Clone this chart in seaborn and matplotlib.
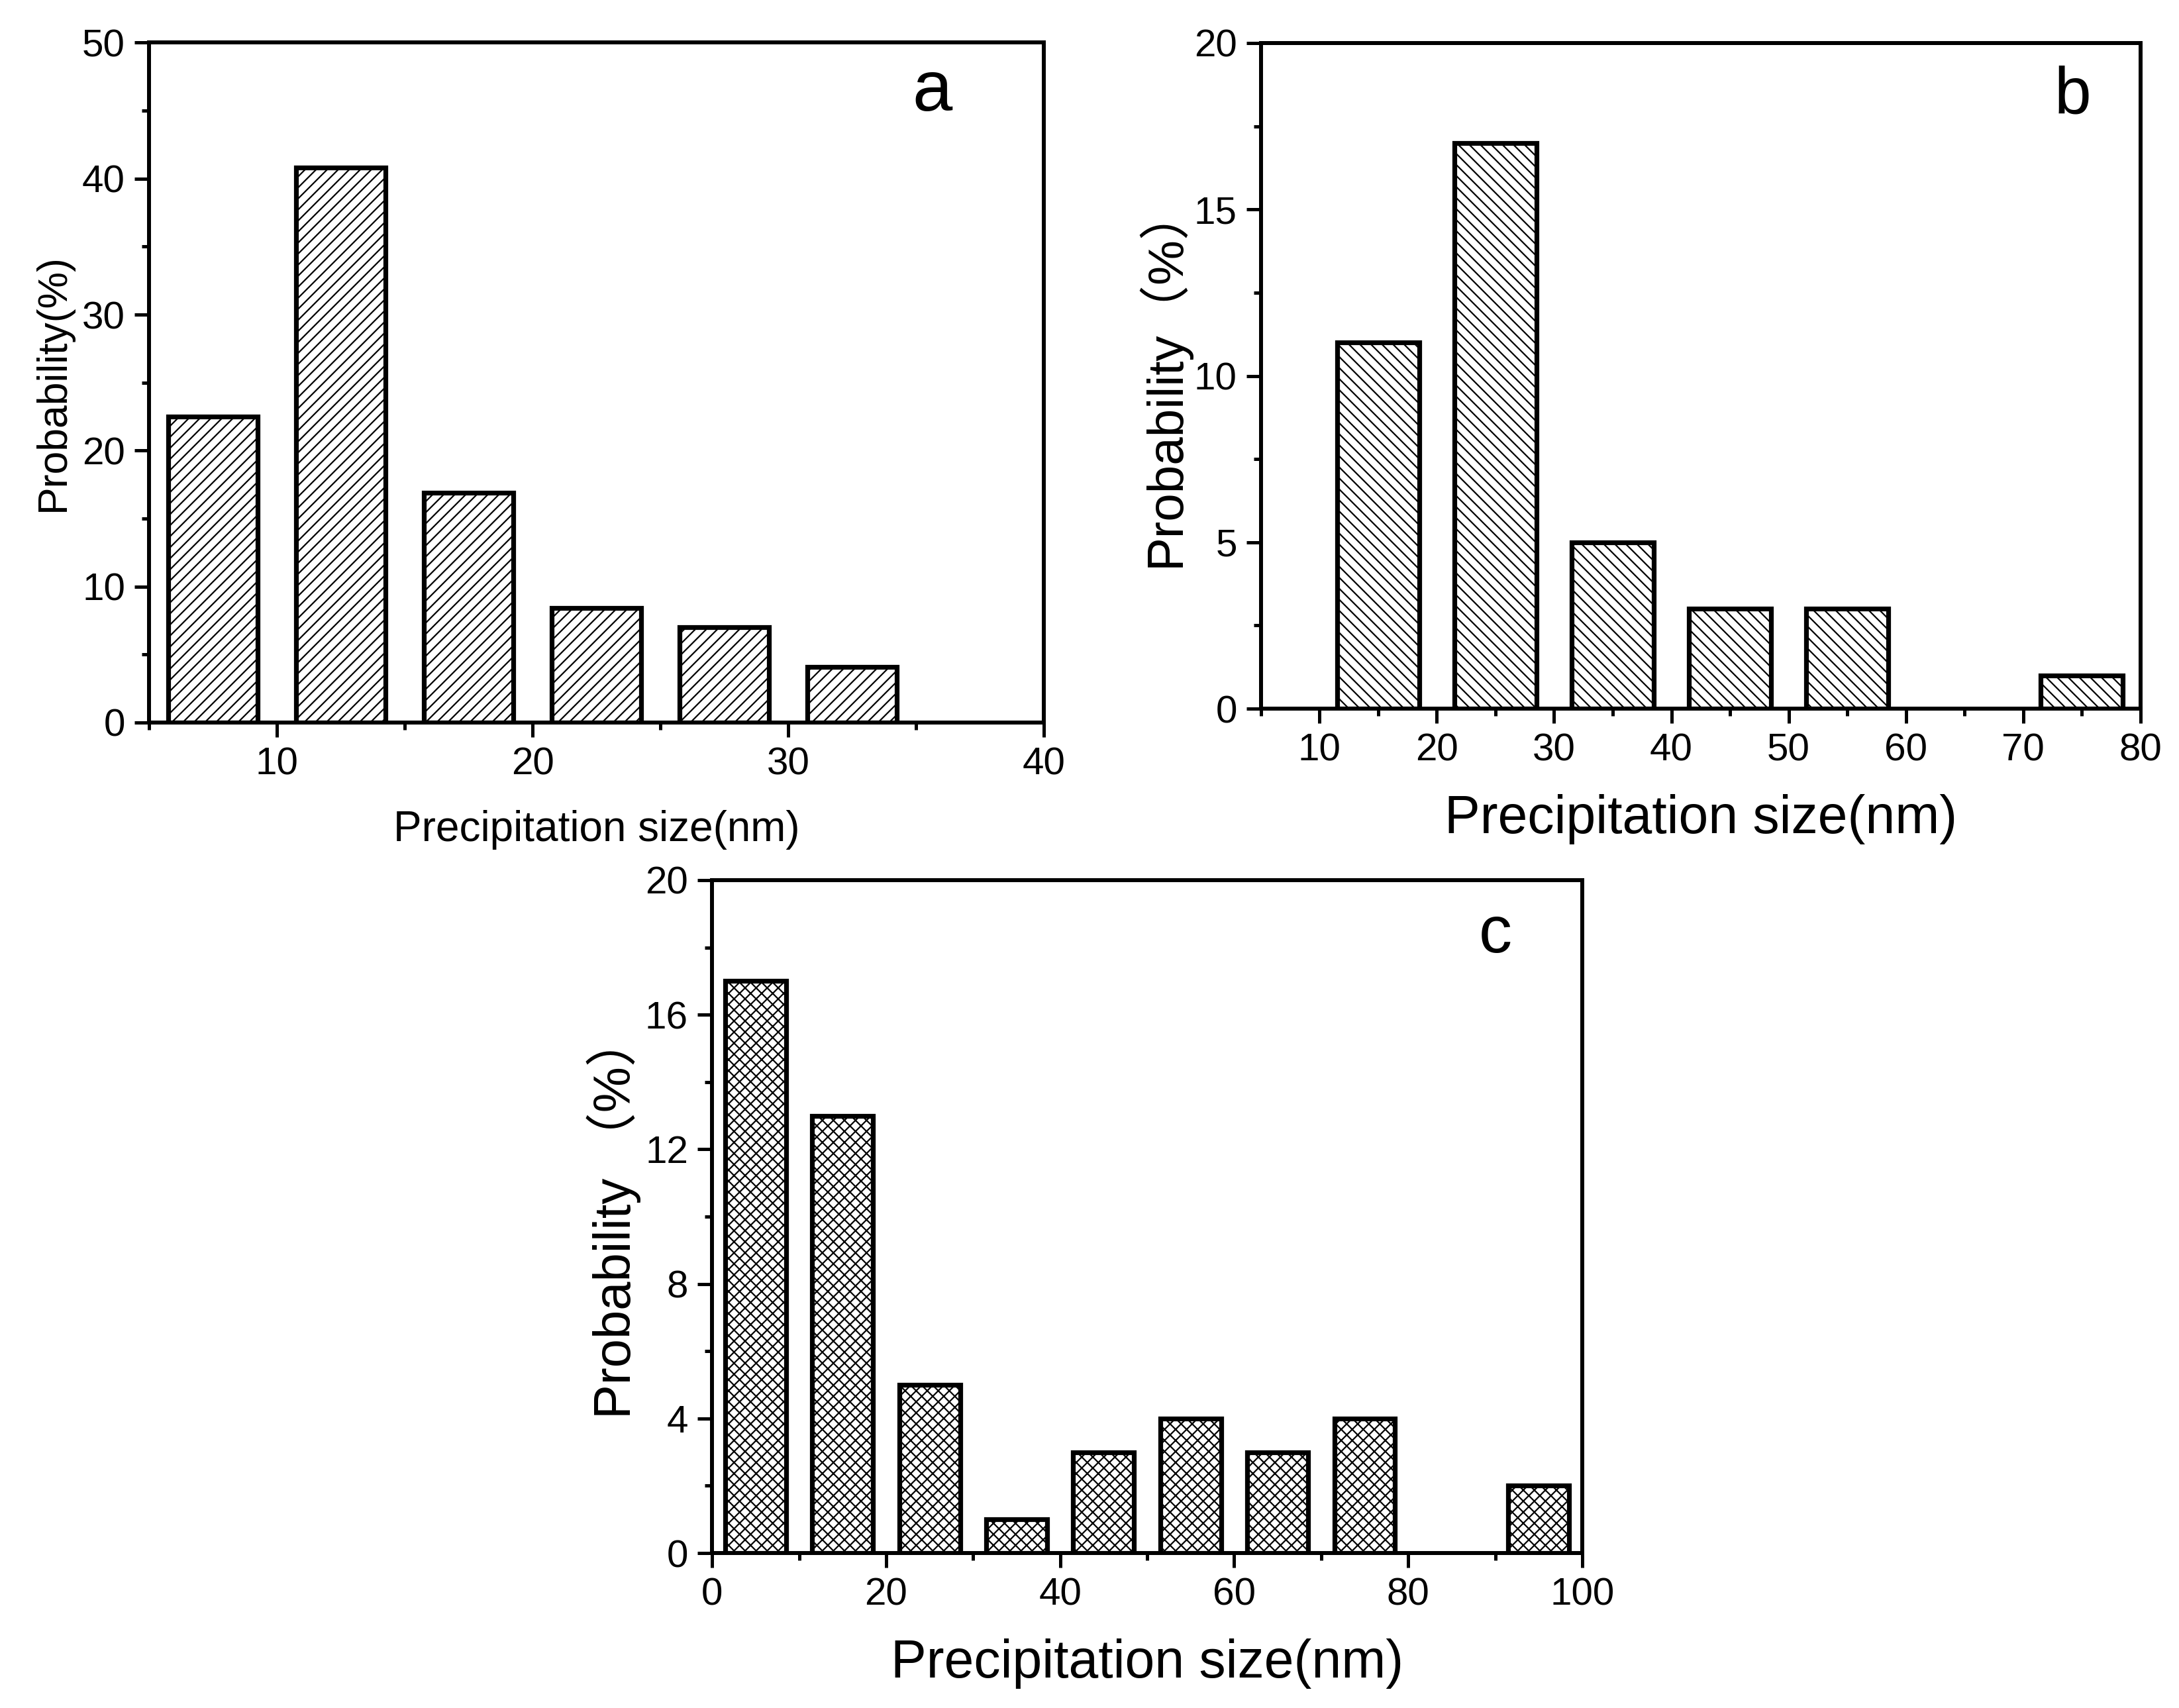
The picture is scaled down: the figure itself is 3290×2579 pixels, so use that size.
import matplotlib
matplotlib.use("Agg")
import matplotlib.pyplot as plt
from matplotlib.ticker import MultipleLocator
import seaborn as sns
import pandas as pd

# ---------------- data ----------------
a_size = [7.5, 12.5, 17.5, 22.5, 27.5, 32.5]
a_prob = [22.5, 40.8, 16.9, 8.4, 7.0, 4.1]

b_size = [15, 25, 35, 45, 55, 75]
b_prob = [11, 17, 5, 3, 3, 1]

c_size = [5, 15, 25, 35, 45, 55, 65, 75, 95]
c_prob = [17, 13, 5, 1, 3, 4, 3, 4, 2]

xlabel = "Precipitation size(nm)"
ylabel_a = "Probability(%)"
ylabel_b = "Probability\uff08%\uff09"
ylabel_c = "Probability \uff08%\uff09"

# ---------------- style ----------------
sns.set_theme(style="ticks")
REG = "Liberation Sans"
plt.rcParams["font.family"] = [REG, "Noto Sans CJK SC", "DejaVu Sans"]
plt.rcParams["hatch.linewidth"] = 1.6
plt.rcParams["hatch.color"] = "black"

fig = plt.figure(figsize=(32.91, 25.79), dpi=100)

def style_axes(ax, xlim, ylim, xmaj, xmin, ymaj, ymin, tick_fs):
    ax.set_xlim(*xlim)
    ax.set_ylim(*ylim)
    ax.xaxis.set_major_locator(MultipleLocator(xmaj))
    ax.xaxis.set_minor_locator(MultipleLocator(xmin))
    ax.yaxis.set_major_locator(MultipleLocator(ymaj))
    ax.yaxis.set_minor_locator(MultipleLocator(ymin))
    for s in ax.spines.values():
        s.set_visible(True)
        s.set_linewidth(4.3)
        s.set_color("black")
    ax.tick_params(which="major", direction="out", length=16, width=3.6,
                   color="black", pad=10, labelsize=tick_fs, labelcolor="black",
                   bottom=True, left=True, top=False, right=False)
    ax.tick_params(which="minor", direction="out", length=8, width=3.6,
                   color="black", bottom=True, left=True, top=False, right=False)
    ax.set_facecolor("white")
    ax.grid(False)

def draw(ax, sizes, probs, hatch):
    df = pd.DataFrame({"size": sizes, "prob": probs})
    sns.barplot(data=df, x="size", y="prob", native_scale=True, width=0.7,
                color="white", edgecolor="black", linewidth=5.2,
                errorbar=None, hatch=hatch, ax=ax, saturation=1)
    for p in ax.patches:
        p.set_facecolor("white")
        p.set_edgecolor("black")
        p.set_hatch(hatch)

# panel a
ax_a = fig.add_axes([0.0684, 0.577, 0.4105, 0.398])
draw(ax_a, a_size, a_prob, "//")
style_axes(ax_a, (5, 40), (0, 50), 10, 5, 10, 5, 42)
ax_a.set_xlabel(xlabel, fontsize=46, labelpad=30, color="black")
ax_a.set_ylabel(ylabel_a, fontsize=45, labelpad=10, color="black")
ax_a.text(0.875, 0.90, "a", transform=ax_a.transAxes, fontsize=78,
          ha="center", va="baseline", color="black")

# panel b
ax_b = fig.add_axes([0.5785, 0.5851, 0.4035, 0.3897])
draw(ax_b, b_size, b_prob, "\\\\")
style_axes(ax_b, (5, 80), (0, 20), 10, 5, 5, 2.5, 42)
ax_b.set_xlabel(xlabel, fontsize=58, labelpad=28, color="black")
ax_b.set_ylabel(ylabel_b, fontsize=55, labelpad=4, color="black",
                fontfamily=[REG, "Noto Sans CJK SC"])
ax_b.text(0.923, 0.894, "b", transform=ax_b.transAxes, fontsize=72,
          ha="center", va="baseline", color="black")

# panel c
ax_c = fig.add_axes([0.3267, 0.0907, 0.3992, 0.394])
draw(ax_c, c_size, c_prob, "xx")
style_axes(ax_c, (0, 100), (0, 20), 20, 10, 4, 2, 42)
ax_c.set_xlabel(xlabel, fontsize=58, labelpad=28, color="black")
ax_c.set_ylabel(ylabel_c, fontsize=56, labelpad=4, color="black",
                fontfamily=[REG, "Noto Sans CJK SC"])
ax_c.text(0.90, 0.893, "c", transform=ax_c.transAxes, fontsize=72,
          ha="center", va="baseline", color="black")

fig.savefig("out.png", dpi=100, facecolor="white")
